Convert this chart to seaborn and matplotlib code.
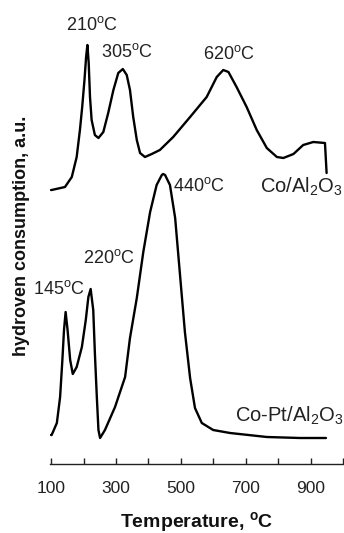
import matplotlib
matplotlib.use("Agg")
import matplotlib.pyplot as plt
import seaborn as sns
import pandas as pd

# --- data (temperature in °C, signal in arbitrary units) ---
co_T = [100, 102, 143, 164, 179, 189, 196, 203, 208, 212, 216, 220, 225, 235, 246,
        261, 276, 292, 307, 321, 333, 343, 353, 364, 374, 389, 410, 435, 476, 528,
        579, 610, 630, 646, 671, 702, 733, 764, 795, 815, 846, 876, 907, 943, 948]
co_y = [274, 274, 277, 287, 307, 334, 357, 384, 407, 419, 401, 367, 344, 329, 326,
        332, 351, 374, 391, 395, 389, 374, 347, 324, 311, 307, 310, 314, 327, 347,
        367, 387, 394, 392, 377, 357, 334, 316, 307, 306, 310, 319, 322, 321, 291]

copt_T = [100, 102, 118, 128, 135, 140, 145, 151, 159, 167, 179, 195, 207, 215, 222,
          230, 235, 241, 246, 251, 266, 297, 328, 343, 364, 384, 405, 425, 441, 445,
          451, 466, 482, 497, 512, 528, 543, 564, 599, 651, 764, 866, 946]
copt_y = [29, 29, 41, 67, 104, 134, 152, 134, 104, 90, 97, 117, 144, 167, 175,
          154, 111, 67, 34, 26, 34, 57, 87, 126, 166, 212, 252, 279, 289, 290,
          289, 279, 246, 189, 132, 86, 56, 41, 34, 31, 27, 26, 26]

tick_vals = [100, 200, 300, 400, 500, 600, 700, 800, 900, 1000]
tick_labels = ["100", "", "300", "", "500", "", "700", "", "900", ""]

peak_labels = ["210", "305", "620", "145", "220", "440"]
peak_T = [226, 334, 648, 125, 278, 475]
peak_y = [434, 407, 405, 170, 201, 273]
peak_ha = ["center", "center", "center", "center", "center", "left"]

series_names = ["Co/Al$_2$O$_3$", "Co-Pt/Al$_2$O$_3$"]
series_T = [743, 666]
series_y = [271, 42]

# --- style ---
sns.set_theme(style="white")
plt.rcParams["font.family"] = ["Liberation Sans", "DejaVu Sans"]
plt.rcParams["mathtext.fontset"] = "custom"
plt.rcParams["mathtext.rm"] = "Liberation Sans"
plt.rcParams["mathtext.it"] = "Liberation Sans:italic"
plt.rcParams["mathtext.bf"] = "Liberation Sans:bold"

fig = plt.figure(figsize=(3.44, 5.33), dpi=100)
ax = fig.add_axes([50 / 344, 69 / 533, 294 / 344, 464 / 533])

df_co = pd.DataFrame({"T": co_T, "y": co_y})
df_copt = pd.DataFrame({"T": copt_T, "y": copt_y})
sns.lineplot(data=df_co, x="T", y="y", sort=False, color="black", lw=1.7, ax=ax)
sns.lineplot(data=df_copt, x="T", y="y", sort=False, color="black", lw=1.7, ax=ax)
for ln in ax.lines:
    ln.set_solid_joinstyle("round")
    ln.set_solid_capstyle("round")

ax.set_xlim(100 - 1 / 0.325, 100 + 293 / 0.325)
ax.set_ylim(0, 464)

for lab, t, yv, ha in zip(peak_labels, peak_T, peak_y, peak_ha):
    ax.text(t, yv, lab + r"$^{\mathrm{o}}$C", ha=ha, va="baseline", fontsize=13,
            color="#222222")
for lab, t, yv in zip(series_names, series_T, series_y):
    ax.text(t, yv, lab, ha="left", va="baseline", fontsize=14.5, color="#222222")

ax.set_xticks(tick_vals)
ax.set_xticklabels(tick_labels, fontsize=12.5, color="#222222")
ax.set_yticks([])
ax.set_xlabel("")
ax.set_ylabel("")
ax.tick_params(axis="x", bottom=True, direction="in", length=4, width=1,
               color="#222222", pad=12)
for s in ["left", "top", "right"]:
    ax.spines[s].set_visible(False)
ax.spines["bottom"].set_color("#222222")
ax.spines["bottom"].set_linewidth(1)

fig.text(197 / 344, 1 - 527 / 533, r"Temperature, $^{\mathbf{o}}$C", ha="center",
         va="baseline", fontsize=14, fontweight="bold", color="#111111")
fig.text(22 / 344, 1 - 236 / 533, "hydroven consumption, a.u.", rotation=90,
         ha="center", va="center", fontsize=13, fontweight="bold", color="#111111")

fig.savefig("out.png", dpi=100)
